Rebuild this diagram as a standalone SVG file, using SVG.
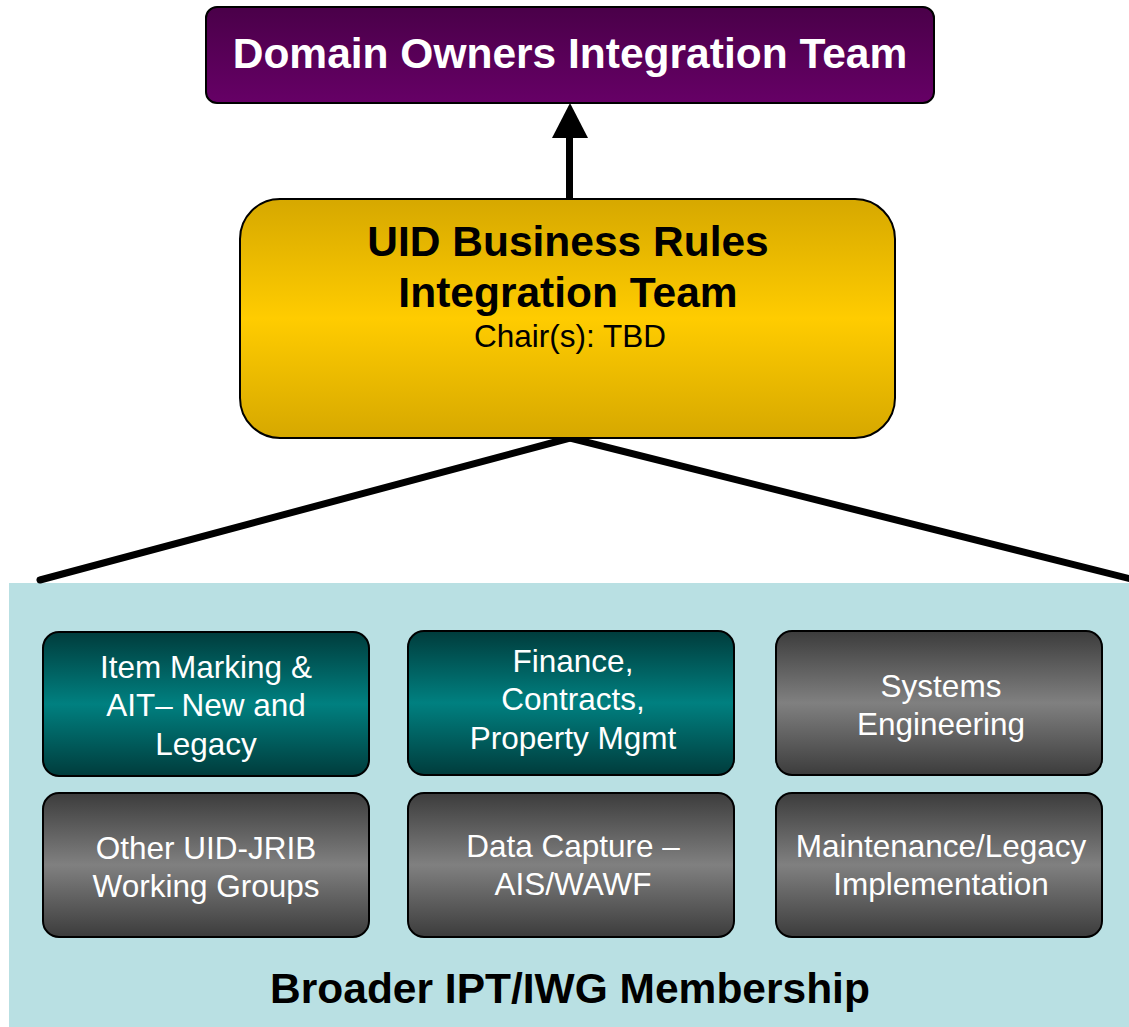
<svg xmlns="http://www.w3.org/2000/svg" width="1129" height="1027" viewBox="0 0 1129 1027">
<defs>
<linearGradient id="gPurple" x1="0" y1="0" x2="0" y2="1">
<stop offset="0" stop-color="#4a0049"/><stop offset="1" stop-color="#660066"/>
</linearGradient>
<linearGradient id="gGold" x1="0" y1="0" x2="0" y2="1">
<stop offset="0" stop-color="#d6a800"/><stop offset="0.5" stop-color="#ffcc00"/><stop offset="1" stop-color="#d6a800"/>
</linearGradient>
<linearGradient id="gTeal" x1="0" y1="0" x2="0" y2="1">
<stop offset="0" stop-color="#003c3c"/><stop offset="0.5" stop-color="#008080"/><stop offset="1" stop-color="#003c3c"/>
</linearGradient>
<linearGradient id="gGray" x1="0" y1="0" x2="0" y2="1">
<stop offset="0" stop-color="#3c3c3c"/><stop offset="0.5" stop-color="#808080"/><stop offset="1" stop-color="#3c3c3c"/>
</linearGradient>
</defs>
<style>
.box{stroke:#000;stroke-width:2}
.bt{font-family:"Liberation Sans",Arial,sans-serif;font-weight:bold;font-size:42.5px;text-anchor:middle}
.st{font-family:"Liberation Sans",Arial,sans-serif;font-size:31.5px;text-anchor:middle;fill:#fff}
.conn{stroke:#000;stroke-width:7;fill:none;stroke-linecap:round}
</style>
<rect id="panel" x="9" y="583" width="1125" height="450" fill="#b9e0e3"/>
<g id="connectors">
<line class="conn" x1="570" y1="438" x2="40" y2="580"/>
<line class="conn" x1="570" y1="438" x2="1135" y2="580"/>
<line x1="569.5" y1="199" x2="569.5" y2="134" stroke="#000" stroke-width="7"/>
<polygon points="570,103 552,138 588,138" fill="#000"/>
</g>
<g id="domain-owners">
<rect class="box" x="206" y="7" width="728" height="96" rx="11" fill="url(#gPurple)"/>
<text class="bt" x="570" y="68" fill="#fff">Domain Owners Integration Team</text>
</g>
<g id="uid-business-rules">
<rect class="box" x="240" y="199" width="655" height="239" rx="40" fill="url(#gGold)"/>
<text class="bt" x="568" y="256" fill="#000">UID Business Rules</text>
<text class="bt" x="568" y="307" fill="#000">Integration Team</text>
<text class="st" x="570" y="347" fill="#000" style="fill:#000">Chair(s): TBD</text>
</g>
<g id="item-marking">
<rect class="box" x="43" y="632" width="326" height="144" rx="16" fill="url(#gTeal)"/>
<text class="st" x="206" y="678">Item Marking &amp;</text>
<text class="st" x="206" y="716">AIT– New and</text>
<text class="st" x="206" y="755">Legacy</text>
</g>
<g id="finance">
<rect class="box" x="408" y="631" width="326" height="144" rx="16" fill="url(#gTeal)"/>
<text class="st" x="573" y="672">Finance,</text>
<text class="st" x="573" y="710">Contracts,</text>
<text class="st" x="573" y="749">Property Mgmt</text>
</g>
<g id="systems-engineering">
<rect class="box" x="776" y="631" width="326" height="144" rx="16" fill="url(#gGray)"/>
<text class="st" x="941" y="697">Systems</text>
<text class="st" x="941" y="735">Engineering</text>
</g>
<g id="other-uid-jrib">
<rect class="box" x="43" y="793" width="326" height="144" rx="16" fill="url(#gGray)"/>
<text class="st" x="206" y="859">Other UID-JRIB</text>
<text class="st" x="206" y="897">Working Groups</text>
</g>
<g id="data-capture">
<rect class="box" x="408" y="793" width="326" height="144" rx="16" fill="url(#gGray)"/>
<text class="st" x="573" y="857">Data Capture –</text>
<text class="st" x="573" y="895">AIS/WAWF</text>
</g>
<g id="maintenance-legacy">
<rect class="box" x="776" y="793" width="326" height="144" rx="16" fill="url(#gGray)"/>
<text class="st" x="941" y="857">Maintenance/Legacy</text>
<text class="st" x="941" y="895">Implementation</text>
</g>
<text id="membership-label" class="bt" x="570" y="1003" fill="#000">Broader IPT/IWG Membership</text>
</svg>
